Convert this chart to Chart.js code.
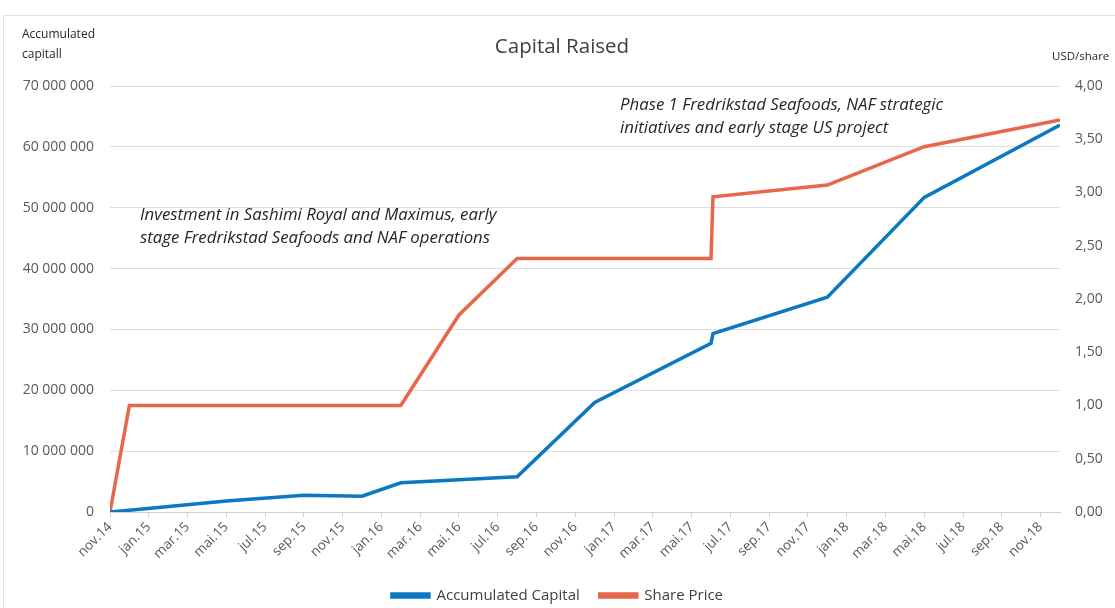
<!DOCTYPE html>
<html>
<head>
<meta charset="utf-8">
<script src="https://cdn.jsdelivr.net/npm/chart.js@4/dist/chart.umd.min.js"></script>
<style>
  body { margin: 0; background: #fff; }
  #wrap { width: 1115px; height: 608px; position: relative; }
</style>
</head>
<body>
<div id="wrap"><canvas id="chartCapital" width="1115" height="608"></canvas></div>
<script>
// x axis: months since nov.14, labels every second month
const tickLabels = ['nov.14', 'jan.15', 'mar.15', 'mai.15', 'jul.15', 'sep.15', 'nov.15',
    'jan.16', 'mar.16', 'mai.16', 'jul.16', 'sep.16', 'nov.16', 'jan.17', 'mar.17',
    'mai.17', 'jul.17', 'sep.17', 'nov.17', 'jan.18', 'mar.18', 'mai.18', 'jul.18',
    'sep.18', 'nov.18'];

// Accumulated capital (left axis)
const capitalMonths = [0, 1, 6, 10, 13, 15, 21, 25, 31, 31.1, 37, 42, 49];
const capitalValues = [0, 300000, 1800000, 2750000, 2600000, 4800000, 5800000, 18000000,
    27700000, 29300000, 35300000, 51700000, 63600000];

// Share price (right axis)
const priceMonths = [0, 1, 15, 18, 21, 31, 31.1, 37, 42, 49];
const priceValues = [0, 1.00, 1.00, 1.85, 2.38, 2.38, 2.96, 3.07, 3.43, 3.68];

const leftTicks = [0, 10000000, 20000000, 30000000, 40000000, 50000000, 60000000, 70000000];
const rightTicks = [0, 0.5, 1, 1.5, 2, 2.5, 3, 3.5, 4];

const FONT = "'Open Sans', 'Liberation Sans', sans-serif";
const GREY = '#595959';

const fmtSpace = v => String(v).replace(/\B(?=(\d{3})+(?!\d))/g, ' ');
const fmtComma = v => v.toFixed(2).replace('.', ',');

/* =======================
   TEXTS (title, axis titles, notes)
======================= */
const textPlugin = {
    id: 'texts',
    afterDraw(chart) {
        const ctx = chart.ctx;
        ctx.save();

        // faint frame of the original chart
        ctx.strokeStyle = '#e3e3e3';
        ctx.lineWidth = 1;
        ctx.beginPath();
        ctx.moveTo(3.5, 608);
        ctx.lineTo(3.5, 15.5);
        ctx.lineTo(1115, 15.5);
        ctx.stroke();

        ctx.textBaseline = 'middle';
        ctx.fillStyle = '#404040';
        ctx.font = `20.5px ${FONT}`;
        ctx.textAlign = 'center';
        ctx.fillText('Capital Raised', 562, 47);

        ctx.fillStyle = '#262626';
        ctx.font = `12px ${FONT}`;
        ctx.textAlign = 'left';
        ctx.fillText('Accumulated', 22, 35);
        ctx.fillText('capitall', 22, 55);
        ctx.font = `11.5px ${FONT}`;
        ctx.fillText('USD/share', 1052, 57);

        ctx.fillStyle = '#262626';
        ctx.font = `italic 16.8px ${FONT}`;
        ctx.fillText('Investment in Sashimi Royal and Maximus, early', 140, 215);
        ctx.fillText('stage Fredrikstad Seafoods and NAF operations', 140, 238);
        ctx.fillText('Phase 1 Fredrikstad Seafoods, NAF strategic', 620, 105);
        ctx.fillText('initiatives and early stage US project', 620, 128);

        ctx.restore();
    }
};

/* =======================
   CHART
======================= */
const ctx = document.getElementById('chartCapital').getContext('2d');

new Chart(ctx, {
    type: 'line',
    data: {
        datasets: [{
            label: 'Accumulated Capital',
            data: capitalMonths.map((m, i) => ({ x: m, y: capitalValues[i] })),
            borderColor: '#0b78c2',
            backgroundColor: '#0b78c2',
            borderWidth: 3.5,
            pointRadius: 0,
            yAxisID: 'y'
        }, {
            label: 'Share Price',
            data: priceMonths.map((m, i) => ({ x: m, y: priceValues[i] })),
            borderColor: '#e8674a',
            backgroundColor: '#e8674a',
            borderWidth: 3.5,
            pointRadius: 0,
            yAxisID: 'y1'
        }]
    },
    options: {
        responsive: false,
        animation: false,
        devicePixelRatio: 1,
        layout: { padding: { top: 86, left: 0, right: 0, bottom: -5 } },
        plugins: {
            legend: {
                position: 'bottom',
                labels: {
                    boxWidth: 37,
                    boxHeight: 3,
                    padding: 20,
                    color: '#404040',
                    font: { family: FONT, size: 15 }
                }
            },
            tooltip: { enabled: false }
        },
        scales: {
            x: {
                type: 'linear',
                min: 0,
                max: 49,
                afterBuildTicks: scale => {
                    scale.ticks = tickLabels.map((_, i) => ({ value: i * 2 }));
                },
                afterFit: scale => { scale.height = 56; },
                ticks: {
                    autoSkip: false,
                    minRotation: 45,
                    maxRotation: 45,
                    padding: 2,
                    color: GREY,
                    font: { family: FONT, size: 13.5 },
                    callback: v => tickLabels[v / 2]
                },
                grid: {
                    drawOnChartArea: false,
                    drawTicks: true,
                    tickLength: 5,
                    color: '#cfcfcf'
                },
                border: { color: '#cfcfcf' }
            },
            y: {
                position: 'left',
                min: 0,
                max: 70000000,
                afterBuildTicks: scale => {
                    scale.ticks = leftTicks.map(v => ({ value: v }));
                },
                afterFit: scale => { scale.width = 110; },
                ticks: {
                    padding: 16,
                    color: GREY,
                    font: { family: FONT, size: 14 },
                    callback: v => fmtSpace(v)
                },
                grid: { color: '#dedede', drawTicks: false },
                border: { display: false }
            },
            y1: {
                position: 'right',
                min: 0,
                max: 4,
                afterBuildTicks: scale => {
                    scale.ticks = rightTicks.map(v => ({ value: v }));
                },
                afterFit: scale => { scale.width = 55; },
                ticks: {
                    padding: 15,
                    color: GREY,
                    font: { family: FONT, size: 14 },
                    callback: v => fmtComma(v)
                },
                grid: { drawOnChartArea: false, drawTicks: false },
                border: { display: false }
            }
        }
    },
    plugins: [textPlugin]
});
</script>
</body>
</html>
